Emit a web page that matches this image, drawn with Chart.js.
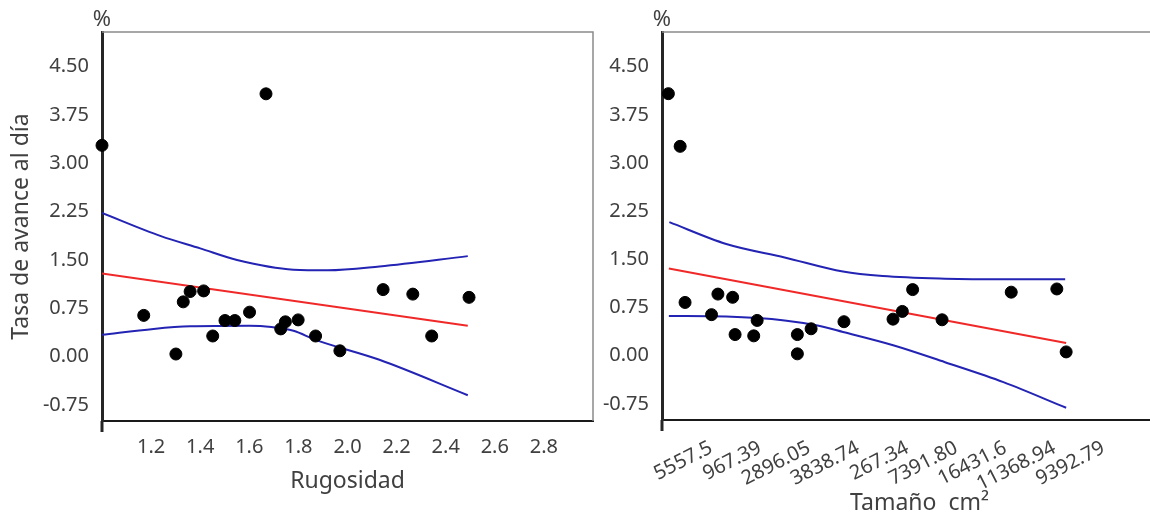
<!DOCTYPE html>
<html>
<head>
<meta charset="utf-8">
<script src="https://cdn.jsdelivr.net/npm/chart.js@4/dist/chart.umd.min.js"></script>
<style>
    html, body { margin: 0; padding: 0; background: #fff; overflow: hidden; }
    #wrap { position: relative; width: 1150px; height: 518px; overflow: hidden; }
    #left-box { position: absolute; left: 0; top: 0; width: 600px; height: 518px; }
    #right-box { position: absolute; left: 600px; top: 0; width: 584px; height: 518px; }
</style>
</head>
<body>
<div id="wrap">
    <div id="left-box"><canvas id="left-chart"></canvas></div>
    <div id="right-box"><canvas id="right-chart"></canvas></div>
</div>
<script>
// shared y ticks
const yTicks = [-0.75, 0, 0.75, 1.5, 2.25, 3.0, 3.75, 4.5];

// Rugosidad panel
const rugTicks = [1.2, 1.4, 1.6, 1.8, 2.0, 2.2, 2.4, 2.6, 2.8];
const rugX = [1.0, 1.668, 1.170, 1.301, 1.331, 1.359, 1.414, 1.451, 1.501, 1.541, 1.601, 1.728, 1.747, 1.799, 1.870, 1.969, 2.145, 2.266, 2.343, 2.495];
const rugY = [3.28, 4.08, 0.64, 0.04, 0.85, 1.01, 1.02, 0.32, 0.56, 0.56, 0.69, 0.43, 0.54, 0.57, 0.32, 0.09, 1.04, 0.97, 0.32, 0.92];
const rugFitX = [1.0, 2.49];
const rugFitY = [1.29, 0.48];
const rugUpX = [1.0, 1.24, 1.4, 1.55, 1.78, 1.92, 2.13, 2.49];
const rugUpY = [2.23, 1.87, 1.68, 1.50, 1.35, 1.34, 1.40, 1.56];
const rugLowX = [1.0, 1.21, 1.36, 1.6, 1.69, 1.78, 1.87, 2.13, 2.49];
const rugLowY = [0.34, 0.43, 0.47, 0.48, 0.46, 0.40, 0.26, -0.05, -0.60];

// Tamaño panel (x = position of each category tick)
const sizeLabels = ['5557.5', '967.39', '2896.05', '3838.74', '267.34', '7391.80', '16431.6', '11368.94', '9392.79'];
const sizeX = [0.13, 0.37, 0.47, 1.01, 1.14, 1.44, 1.49, 1.87, 1.94, 2.76, 2.76, 3.04, 3.71, 4.71, 4.90, 5.11, 5.71, 7.12, 8.05, 8.24];
const sizeY = [4.08, 3.26, 0.83, 0.64, 0.96, 0.91, 0.33, 0.31, 0.55, 0.33, 0.03, 0.42, 0.53, 0.57, 0.69, 1.03, 0.56, 0.99, 1.04, 0.06];
const sizeFitX = [0.14, 8.24];
const sizeFitY = [1.36, 0.20];
const sizeUpX = [0.15, 1.31, 2.50, 3.69, 4.50, 5.77, 7.0, 8.22];
const sizeUpY = [2.08, 1.74, 1.53, 1.31, 1.24, 1.20, 1.19, 1.19];
const sizeLowX = [0.14, 1.31, 2.50, 3.17, 3.69, 4.73, 5.77, 6.96, 8.24];
const sizeLowY = [0.62, 0.61, 0.55, 0.47, 0.37, 0.16, -0.10, -0.41, -0.81];

const TEXT = '#404040';
const FONT = "'Noto Sans', 'Open Sans', sans-serif";
const BLUE = '#2323b4';
const RED = '#f02828';

function pts(xs, ys) {
    return xs.map((x, i) => ({ x, y: ys[i] }));
}

// top/right frame, y-axis stub below x-axis, and the % unit label
const framePlugin = {
    id: 'frame',
    afterDraw(chart) {
        const { ctx, chartArea } = chart;
        const { left, right, top, bottom } = chartArea;
        ctx.save();
        ctx.strokeStyle = '#8a8a8a';
        ctx.lineWidth = 1.5;
        ctx.beginPath();
        ctx.moveTo(left, top);
        ctx.lineTo(right, top);
        ctx.lineTo(right, bottom);
        ctx.stroke();
        ctx.strokeStyle = '#262626';
        ctx.lineWidth = 3;
        ctx.beginPath();
        ctx.moveTo(left, bottom);
        ctx.lineTo(left, bottom + 11);
        ctx.stroke();
        ctx.fillStyle = TEXT;
        ctx.font = `22px ${FONT}`;
        ctx.textAlign = 'center';
        ctx.textBaseline = 'alphabetic';
        ctx.fillText('%', left, top - 6);
        ctx.restore();
    },
};

function makeChart(canvasId, cfg) {
    const ctx = document.getElementById(canvasId).getContext('2d');
    return new Chart(ctx, {
        type: 'scatter',
        data: {
            datasets: [
                {
                    label: 'datos',
                    data: pts(cfg.x, cfg.y),
                    backgroundColor: '#000',
                    borderColor: '#000',
                    pointRadius: 6,
                    pointHoverRadius: 6,
                    showLine: false,
                    clip: false,
                    order: 0,
                },
                {
                    label: 'ajuste',
                    data: pts(cfg.fitX, cfg.fitY),
                    borderColor: RED,
                    borderWidth: 2,
                    pointRadius: 0,
                    showLine: true,
                    order: 1,
                },
                {
                    label: 'superior',
                    data: pts(cfg.upX, cfg.upY),
                    borderColor: BLUE,
                    borderWidth: 2,
                    pointRadius: 0,
                    showLine: true,
                    cubicInterpolationMode: 'monotone',
                    order: 1,
                },
                {
                    label: 'inferior',
                    data: pts(cfg.lowX, cfg.lowY),
                    borderColor: BLUE,
                    borderWidth: 2,
                    pointRadius: 0,
                    showLine: true,
                    cubicInterpolationMode: 'monotone',
                    order: 1,
                },
            ],
        },
        options: {
            responsive: true,
            maintainAspectRatio: false,
            animation: false,
            events: [],
            layout: { padding: cfg.padding },
            plugins: {
                legend: { display: false },
                tooltip: { enabled: false },
            },
            scales: {
                x: {
                    type: 'linear',
                    min: cfg.xMin,
                    max: cfg.xMax,
                    afterBuildTicks: (scale) => { scale.ticks = cfg.xTicks.map((v) => ({ value: v })); },
                    afterFit: (scale) => {
                        scale.height = cfg.xHeight;
                        scale.paddingLeft = 0;
                        scale.paddingRight = 0;
                    },
                    grid: { display: true, drawOnChartArea: false, drawTicks: false },
                    border: { display: true, color: '#1a1a1a', width: 2 },
                    ticks: {
                        color: TEXT,
                        font: { family: FONT, size: 20 },
                        padding: cfg.xTickPad,
                        autoSkip: false,
                        minRotation: cfg.rotation,
                        maxRotation: cfg.rotation,
                        callback: cfg.xLabel,
                    },
                    title: {
                        display: true,
                        text: cfg.xTitle,
                        color: TEXT,
                        font: { family: FONT, size: 23 },
                        padding: { top: 0, bottom: cfg.xTitlePad },
                    },
                },
                y: {
                    type: 'linear',
                    min: -1.0,
                    max: 5.04,
                    afterBuildTicks: (scale) => { scale.ticks = yTicks.map((v) => ({ value: v })); },
                    afterFit: (scale) => { scale.width = cfg.yWidth; },
                    grid: { display: true, drawOnChartArea: false, drawTicks: false },
                    border: { display: true, color: '#262626', width: 3 },
                    ticks: {
                        color: TEXT,
                        font: { family: FONT, size: 20 },
                        padding: 13,
                        callback: (v) => Number(v).toFixed(2),
                    },
                    title: {
                        display: !!cfg.yTitle,
                        text: cfg.yTitle,
                        color: TEXT,
                        font: { family: FONT, size: 23 },
                        padding: { top: 8, bottom: 0 },
                    },
                },
            },
        },
        plugins: [framePlugin],
    });
}

makeChart('left-chart', {
    x: rugX, y: rugY,
    fitX: rugFitX, fitY: rugFitY,
    upX: rugUpX, upY: rugUpY,
    lowX: rugLowX, lowY: rugLowY,
    xMin: 1.0, xMax: 3.0,
    xTicks: rugTicks,
    xLabel: (v) => Number(v).toFixed(1),
    rotation: 0,
    xTickPad: 14,
    xHeight: 97,
    xTitle: 'Rugosidad',
    xTitlePad: 23,
    yWidth: 102,
    yTitle: 'Tasa de avance al día',
    padding: { top: 32, right: 3, left: 0, bottom: 0 },
});

makeChart('right-chart', {
    x: sizeX, y: sizeY,
    fitX: sizeFitX, fitY: sizeFitY,
    upX: sizeUpX, upY: sizeUpY,
    lowX: sizeLowX, lowY: sizeLowY,
    xMin: 0, xMax: 10.5,
    xTicks: sizeLabels.map((s, i) => i + 1),
    xLabel: (v) => sizeLabels[Math.round(v) - 1] || '',
    rotation: 27,
    xTickPad: 16,
    xHeight: 98,
    xTitle: 'Tamaño  cm²',
    xTitlePad: 1,
    yWidth: 62,
    yTitle: '',
    padding: { top: 32, right: 0, left: 0, bottom: 0 },
});
</script>
</body>
</html>
